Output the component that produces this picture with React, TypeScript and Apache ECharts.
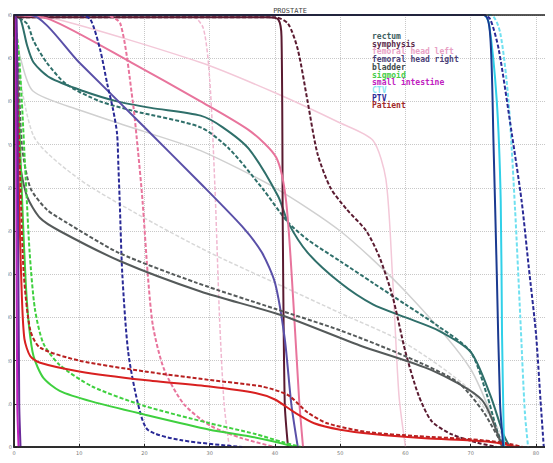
import React, { useEffect, useRef } from "react";
import * as echarts from "echarts";

type P = [number, number];

const xTicks = [0, 10, 20, 30, 40, 50, 60, 70, 80];
const yTicks = [0, 10, 20, 30, 40, 50, 60, 70, 80, 90, 100];

const legendNames = [
  "rectum",
  "symphysis",
  "femoral head left",
  "femoral head right",
  "bladder",
  "sigmoid",
  "small intestine",
  "CTV",
  "PTV",
  "Patient",
];
const legendColors = [
  "#3d5e5e",
  "#5a2a4a",
  "#e8a0c4",
  "#4a3f78",
  "#3e4a4a",
  "#46cc46",
  "#c020c0",
  "#86e4f2",
  "#2a2a96",
  "#a02828",
];

const rectumA: P[] = [[0, 100], [1, 99], [2, 93], [3, 89], [5.5, 85.5], [10.6, 82.4], [15.8, 80], [21, 78.5], [28.6, 76.7], [32, 74], [36, 69], [40.5, 58], [42, 52], [45, 45], [50, 38], [55, 33], [60, 30], [65, 27], [70, 22], [73, 12], [75, 3], [76, 0]];
const rectumB: P[] = [[0, 100], [2, 98], [3, 94], [5, 89], [8, 84], [13.2, 80], [18.3, 77.8], [28.6, 74], [33, 69], [38, 60], [42, 52], [45, 48], [50, 43], [55, 38], [60, 33], [65, 28], [70, 22], [72.5, 12], [74, 4], [75, 0]];
const symphysisA: P[] = [[0, 99.5], [39, 99.5], [40.5, 99], [41, 95], [41.2, 50], [41.5, 10], [42, 0]];
const symphysisB: P[] = [[0, 99.5], [40, 99.5], [42, 98], [43.5, 92], [45, 80], [46.5, 68], [48.5, 60], [51, 55], [54, 50], [56, 44], [58, 35], [60, 22], [62, 12], [64, 6], [67, 3], [71, 1], [74, 0]];
const femLA: P[] = [[0, 100], [5.5, 99], [18, 89], [28.6, 80], [36.3, 73], [40.2, 67], [41.7, 57], [42.8, 34], [43.7, 11], [44.3, 0]];
const femLB: P[] = [[0, 100], [14, 100], [16.3, 98], [18.2, 80], [19, 68.6], [19.7, 57], [20.5, 40], [21.3, 28], [23, 18], [26, 10], [30, 5], [35, 2], [40, 0]];
const femRA: P[] = [[0, 100], [2.5, 100], [10, 89], [20, 74], [28.6, 61], [35, 51], [38, 45], [40, 38], [41.5, 25], [42.5, 10], [43.5, 0]];
const femRB: P[] = [[0, 100], [10, 100], [11.7, 99], [13.2, 92], [14.3, 84], [15.2, 78], [15.8, 72.5], [16, 65], [16.2, 57], [16.6, 40], [17.5, 22], [19, 10], [20.5, 4], [25.5, 1.6], [35, 0]];
const bladderA: P[] = [[0, 100], [0.5, 88], [0.9, 66], [2, 58], [4, 53], [7, 50], [16.3, 43], [28.6, 36], [41, 30.5], [53, 23.5], [64, 17.8], [71.7, 10.9], [74.8, 0]];
const bladderB: P[] = [[0, 100], [0.6, 90], [1.2, 70], [2.5, 60], [5, 55], [8, 52], [16, 45], [28, 38], [40, 32], [50, 27], [60, 21], [68, 15], [72, 8], [75, 0]];
const sigmoidA: P[] = [[0, 100], [0.4, 90], [0.8, 75], [1.3, 55], [1.8, 38], [2.3, 28], [3, 21], [4.5, 16], [7, 13], [12, 10.5], [20, 7.5], [30, 4], [36, 2.5], [40, 1.2], [43, 0]];
const sigmoidB: P[] = [[0, 100], [0.7, 92], [1.2, 80], [1.8, 62], [2.4, 45], [3.2, 32], [4.5, 24], [7, 19], [12, 14], [20, 9.5], [30, 5.5], [37, 3], [41, 1.2], [44, 0]];
const intestineA: P[] = [[0, 100], [0.2, 99], [0.35, 60], [0.5, 10], [0.7, 0]];
const intestineB: P[] = [[0, 100], [0.4, 99], [0.6, 60], [0.8, 10], [1.0, 0]];
const ctvA: P[] = [[0, 100], [72, 100], [72.8, 98], [74, 80], [74.6, 57], [74.8, 26], [75.1, 0]];
const ctvB: P[] = [[0, 100], [73, 100], [74.5, 96], [75.8, 80], [76.8, 55], [77.6, 30], [78.3, 8], [78.8, 0]];
const ptvA: P[] = [[0, 100], [72, 100], [73, 95], [73.5, 70], [74, 40], [74.5, 10], [75, 0]];
const ptvB: P[] = [[0, 100], [72, 100], [73, 99], [74.3, 92], [76.3, 72.5], [77.8, 57], [78.9, 41.6], [80, 26.3], [80.7, 10.8], [81.2, 0]];
const patientA: P[] = [[0, 100], [0.3, 90], [0.6, 70], [0.9, 50], [1.2, 35], [1.6, 25], [2.5, 21], [4, 19.5], [10, 17.5], [20, 15.5], [30, 14], [37, 12.5], [40, 11], [43, 8], [46, 5.5], [50, 4], [55, 3], [63, 2], [70, 1.5], [74, 1], [77, 0]];
const patientB: P[] = [[0, 100], [0.5, 85], [1, 60], [1.5, 40], [2.5, 27], [4, 23], [10, 20], [20, 17.5], [30, 15.5], [38, 14], [42, 12], [45, 8], [48, 5.5], [54, 3.5], [62, 2.5], [70, 1.8], [75, 1], [78, 0]];
const paleA: P[] = [[0, 100], [6.6, 99], [28.6, 89], [40, 82], [50, 75], [55, 71], [57, 62], [58, 40], [59, 12], [60, 0]];
const paleB: P[] = [[0, 98], [1, 90], [2.9, 82.4], [10, 78], [20, 73], [28.6, 68.6], [40, 60], [50, 50], [60, 36], [70, 18], [75, 0]];
const paleC: P[] = [[0, 95], [3, 72], [10, 62], [20, 53], [30, 45], [40, 38], [50, 31], [60, 24], [70, 13], [76, 0]];
const paleD: P[] = [[0, 100], [27, 100], [29, 97], [30, 85], [30.8, 60], [31.5, 30], [32.2, 10], [33, 0]];

const seriesDefs: { name: string; data: P[]; color: string; dashed: boolean; width: number }[] = [
  { name: "pale1", data: paleA, color: "#f3c8d8", dashed: false, width: 1.5 },
  { name: "pale2", data: paleB, color: "#d0d0d0", dashed: false, width: 1.5 },
  { name: "pale3", data: paleC, color: "#d8d8d8", dashed: true, width: 1.5 },
  { name: "pale4", data: paleD, color: "#f0b8d0", dashed: true, width: 1.5 },
  { name: "rectum", data: rectumA, color: "#2f6f6a", dashed: false, width: 2 },
  { name: "rectum2", data: rectumB, color: "#2f6f6a", dashed: true, width: 2 },
  { name: "symphysis", data: symphysisA, color: "#5a1a30", dashed: false, width: 2 },
  { name: "symphysis2", data: symphysisB, color: "#5a1a30", dashed: true, width: 2 },
  { name: "femL", data: femLA, color: "#e8749c", dashed: false, width: 2 },
  { name: "femL2", data: femLB, color: "#e8749c", dashed: true, width: 2 },
  { name: "femR", data: femRA, color: "#5a50a8", dashed: false, width: 2 },
  { name: "femR2", data: femRB, color: "#2a2a96", dashed: true, width: 2 },
  { name: "bladder", data: bladderA, color: "#555a5a", dashed: false, width: 2 },
  { name: "bladder2", data: bladderB, color: "#555a5a", dashed: true, width: 2 },
  { name: "sigmoid", data: sigmoidA, color: "#3fd03f", dashed: false, width: 2 },
  { name: "sigmoid2", data: sigmoidB, color: "#3fd03f", dashed: true, width: 2 },
  { name: "patient", data: patientA, color: "#d82020", dashed: false, width: 2 },
  { name: "patient2", data: patientB, color: "#b82020", dashed: true, width: 2 },
  { name: "intestine", data: intestineA, color: "#c020c0", dashed: false, width: 2 },
  { name: "intestine2", data: intestineB, color: "#6a2a9a", dashed: false, width: 2 },
  { name: "ctv", data: ctvA, color: "#30d0e8", dashed: false, width: 2 },
  { name: "ctv2", data: ctvB, color: "#70e0f0", dashed: true, width: 2 },
  { name: "ptv", data: ptvA, color: "#1a3a90", dashed: false, width: 2 },
  { name: "ptv2", data: ptvB, color: "#2a2a96", dashed: true, width: 2 },
];

export default function App() {
  const ref = useRef<HTMLDivElement>(null);
  useEffect(() => {
    if (!ref.current) return;
    const chart = echarts.init(ref.current, undefined, { renderer: "svg" });
    const labelStyle = { fontSize: 5, color: "#777", fontFamily: "DejaVu Sans" };
    chart.setOption({
      animation: false,
      backgroundColor: "#ffffff",
      title: {
        text: "PROSTATE",
        left: 285,
        top: 2,
        textAlign: "center",
        textStyle: { fontSize: 7, fontWeight: "normal", color: "#444", fontFamily: "DejaVu Sans Mono" },
      },
      grid: { left: 14, right: 4, top: 15, bottom: 16, containLabel: false, outerBoundsMode: "none", show: false },
      xAxis: {
        type: "value",
        min: 0,
        max: 82,
        interval: 10,
        name: "Dose (Gy)",
        nameLocation: "middle",
        nameGap: 11,
        nameMoveOverlap: false,
        nameTextStyle: { fontSize: 6, color: "#555", fontFamily: "DejaVu Sans Mono", padding: 0 },
        axisLine: { show: true, onZero: false, lineStyle: { color: "#222", width: 1.5 } },
        axisTick: { show: true, inside: true, length: 3, lineStyle: { color: "#222" } },
        axisLabel: { ...labelStyle, margin: 3, showMaxLabel: false },
        splitLine: { show: true, lineStyle: { color: "#c8c8c8", type: "dotted", width: 1 } },
      },
      yAxis: {
        type: "value",
        min: 0,
        max: 100,
        interval: 10,
        name: "Volume (%)",
        nameLocation: "middle",
        nameGap: 9,
        nameMoveOverlap: false,
        nameTextStyle: { fontSize: 6, color: "#555", fontFamily: "DejaVu Sans Mono", padding: 0 },
        axisLine: { show: true, onZero: false, lineStyle: { color: "#222", width: 1.5 } },
        axisTick: { show: true, inside: true, length: 3, lineStyle: { color: "#222" } },
        axisLabel: { ...labelStyle, margin: 2 },
        splitLine: { show: true, lineStyle: { color: "#c8c8c8", type: "dotted", width: 1 } },
      },
      graphic: [
        {
          type: "rect",
          shape: { x: 14, y: 15, width: 535, height: 432 },
          style: { fill: "none", stroke: "#222", lineWidth: 1.5 },
          silent: true,
          z: 100,
        },
        ...legendNames.map((n, i) => ({
          type: "text",
          left: 372,
          top: 32.5 + i * 7.7,
          style: {
            text: n,
            fill: legendColors[i],
            font: "bold 8px 'DejaVu Sans Mono'",
          },
          z: 101,
        })),
      ],
      series: seriesDefs.map((s) => ({
        name: s.name,
        type: "line",
        data: s.data,
        showSymbol: false,
        smooth: 0.25,
        lineStyle: { color: s.color, width: s.width, type: s.dashed ? [4, 2] : "solid" },
        itemStyle: { color: s.color },
      })),
    });
    return () => chart.dispose();
  }, []);
  return <div ref={ref} style={{ width: 553, height: 463, margin: -8 }} />;
}
